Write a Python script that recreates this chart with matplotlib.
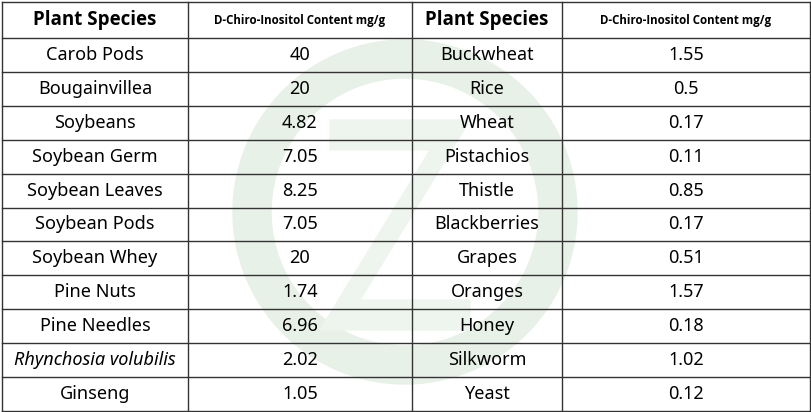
import matplotlib
matplotlib.use("Agg")
import matplotlib.pyplot as plt
from matplotlib.patches import Wedge, Polygon

left_species = ["Carob Pods","Bougainvillea","Soybeans","Soybean Germ","Soybean Leaves","Soybean Pods","Soybean Whey","Pine Nuts","Pine Needles","Rhynchosia volubilis","Ginseng"]
left_values = ["40","20","4.82","7.05","8.25","7.05","20","1.74","6.96","2.02","1.05"]
right_species = ["Buckwheat","Rice","Wheat","Pistachios","Thistle","Blackberries","Grapes","Oranges","Honey","Silkworm","Yeast"]
right_values = ["1.55","0.5","0.17","0.11","0.85","0.17","0.51","1.57","0.18","1.02","0.12"]
headers = ["Plant Species","D-Chiro-Inositol Content mg/g","Plant Species","D-Chiro-Inositol Content mg/g"]

W, H = 812, 412
fig = plt.figure(figsize=(W/100, H/100), dpi=100)
ax = fig.add_axes([0,0,1,1])
ax.set_xlim(0, W); ax.set_ylim(H, 0); ax.axis("off")

ax.add_patch(Wedge((405,212),172,0,360,width=38,color="#e8f1e8",zorder=0))
ax.add_patch(Polygon([(330,120),(470,120),(360,300),(470,300),(470,330),(320,330),(430,150),(330,150)],closed=True,color="#eef5ee",zorder=0))

xs = [2,188,412,562,810]
row_h = 33.9
top = 2
ys = [top] + [top+36+i*row_h for i in range(12)]
lc = "#333333"
for x in xs:
    ax.plot([x,x],[ys[0],ys[-1]],color=lc,lw=1)
for y in ys:
    ax.plot([xs[0],xs[-1]],[y,y],color=lc,lw=1)

for j,h in enumerate(headers):
    cx = (xs[j]+xs[j+1])/2
    yc = (ys[0]+ys[1])/2
    big = j % 2 == 0
    ax.text(cx, yc, h, ha="center", va="center", fontsize=13.5 if big else 8.3,
            fontweight="bold", family=["Open Sans","DejaVu Sans"])
cols = [left_species,left_values,right_species,right_values]
for j,col in enumerate(cols):
    cx = (xs[j]+xs[j+1])/2
    for i,t in enumerate(col):
        yc = (ys[i+1]+ys[i+2])/2
        style = "italic" if t == "Rhynchosia volubilis" else "normal"
        ax.text(cx, yc, t, ha="center", va="center", fontsize=13, family=["Noto Sans","DejaVu Sans"], style=style)

fig.savefig("out.png", dpi=100, facecolor="white")
